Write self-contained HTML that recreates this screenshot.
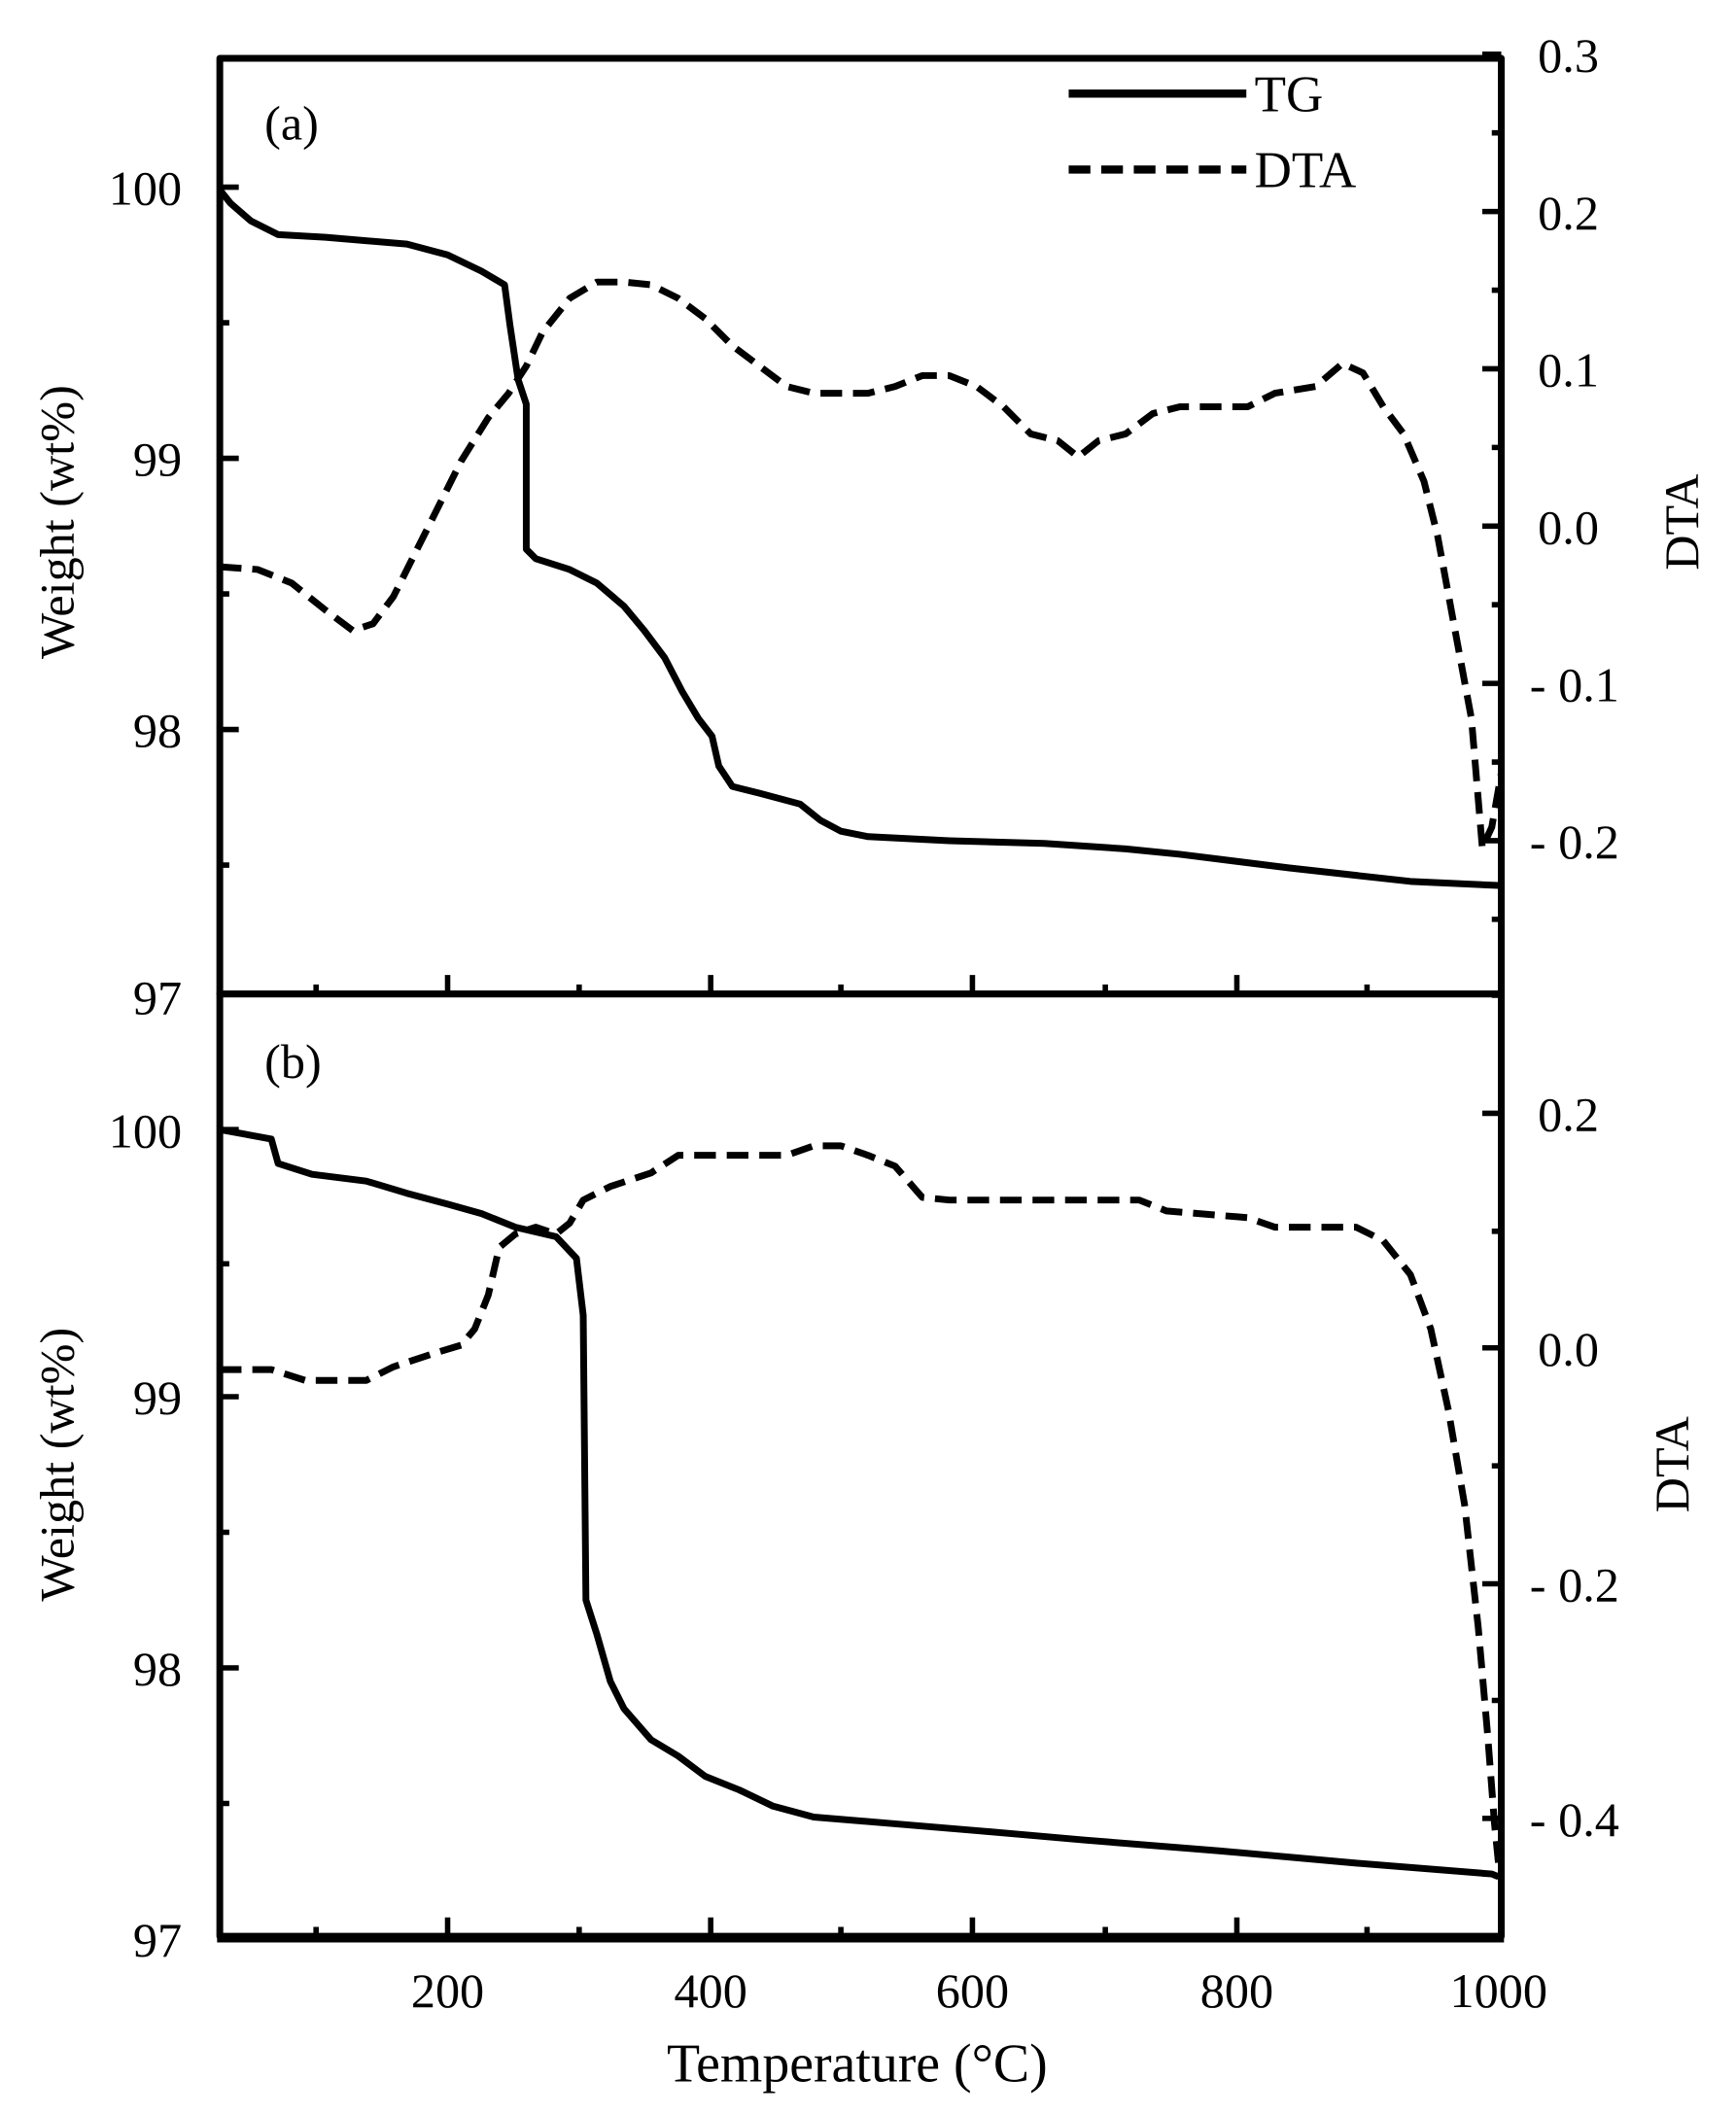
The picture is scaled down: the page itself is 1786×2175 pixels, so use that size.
<!DOCTYPE html>
<html><head><meta charset="utf-8"><style>
html,body{margin:0;padding:0;background:#fff}
svg{display:block}
text{font-family:"Liberation Serif",serif;fill:#000}
</style></head><body>
<svg width="1786" height="2175" viewBox="0 0 1280 1559" xmlns="http://www.w3.org/2000/svg">
<g fill="none" stroke="#000" stroke-linejoin="round">
<rect x="162" y="43" width="945" height="690" stroke-width="5"/>
<rect x="162" y="733" width="945" height="695" stroke-width="5"/>
<line x1="160" y1="1429" x2="1109" y2="1429" stroke-width="7"/>
<path stroke-width="4" d="M162 138h14M162 338h14M162 538h14M162 238h7M162 438h7M162 638h7"/>
<path stroke-width="4" d="M162 833h14M162 1030h14M162 1230h14M162 932h7M162 1130h7M162 1330h7"/>
<path stroke-width="4" d="M1107 40h-14M1107 156h-14M1107 272h-14M1107 388h-14M1107 504h-14M1107 620h-14M1107 98h-7M1107 214h-7M1107 330h-7M1107 446h-7M1107 562h-7M1107 678h-7"/>
<path stroke-width="4" d="M1107 821h-14M1107 994h-14M1107 1168h-14M1107 1341h-14M1107 734h-7M1107 908h-7M1107 1081h-7M1107 1254h-7"/>
<path stroke-width="4" d="M330 1428v-14M524 1428v-14M717 1428v-14M912 1428v-14M233 1428v-7M427 1428v-7M620 1428v-7M815 1428v-7M1008 1428v-7"/>
<path stroke-width="4" d="M330 733v-14M524 733v-14M717 733v-14M912 733v-14M233 733v-7M427 733v-7M620 733v-7M815 733v-7M1008 733v-7"/>
<polyline stroke-width="5" points="162,140 170,150 185,163 205,173 240,175 300,180 330,188 355,200 372,210 376,240 382,280 388,298 388,405 395,412 420,420 440,430 460,447 475,465 490,485 503,510 515,530 525,543 530,565 540,580 560,585 590,593 605,605 620,613 640,617 700,620 770,622 830,626 870,630 950,640 1040,650 1105,653"/>
<polyline stroke-width="5" stroke-dasharray="16,8" points="162,418 190,420 215,430 240,450 260,465 275,460 290,440 305,410 320,380 340,340 360,308 375,290 388,270 400,245 420,220 440,208 460,208 480,210 500,220 520,235 540,255 560,270 580,285 600,290 640,290 660,285 680,277 700,277 720,285 740,300 760,320 780,325 795,337 810,325 830,320 850,305 870,300 920,300 940,290 970,285 990,268 1005,275 1020,300 1035,320 1050,355 1060,395 1072,460 1085,530 1093,625 1100,610 1107,570"/>
<polyline stroke-width="5" points="162,833 200,840 205,858 230,866 270,871 300,880 330,888 355,895 380,905 410,912 425,928 430,970 432,1180 440,1205 450,1240 460,1260 480,1283 500,1295 520,1310 545,1320 570,1332 600,1340 660,1345 720,1350 800,1357 900,1365 1000,1374 1100,1382 1105,1384"/>
<polyline stroke-width="5" stroke-dasharray="16,8" points="162,1010 200,1010 225,1018 270,1018 290,1008 320,998 340,992 350,980 360,955 368,920 380,910 395,905 410,910 420,902 430,885 450,875 480,865 500,852 580,852 600,845 620,845 640,852 660,860 680,883 700,885 840,885 860,893 920,898 940,905 1000,905 1020,915 1040,940 1055,980 1068,1040 1080,1110 1090,1200 1097,1280 1102,1345 1105,1375"/>
<line x1="788" y1="69" x2="919" y2="69" stroke-width="6"/>
<line x1="788" y1="125" x2="919" y2="125" stroke-width="6" stroke-dasharray="16,8"/>
</g>
<g font-size="36">
<text x="925" y="82" font-size="38">TG</text>
<text x="925" y="138" font-size="38">DTA</text>
<text x="195" y="103">(a)</text>
<text x="195" y="795">(b)</text>
<g text-anchor="end">
<text x="134" y="151">100</text><text x="134" y="351">99</text><text x="134" y="551">98</text><text x="134" y="748">97</text>
<text x="134" y="846">100</text><text x="134" y="1043">99</text><text x="134" y="1243">98</text><text x="134" y="1443">97</text>
</g>
<g text-anchor="start">
<text x="1134" y="53">0.3</text><text x="1134" y="169">0.2</text><text x="1134" y="285">0.1</text><text x="1134" y="401">0.0</text>
<text x="1128" y="517">- 0.1</text><text x="1128" y="633">- 0.2</text>
<text x="1134" y="834">0.2</text><text x="1134" y="1007">0.0</text><text x="1128" y="1181">- 0.2</text><text x="1128" y="1354">- 0.4</text>
</g>
<g text-anchor="middle">
<text x="330" y="1480">200</text><text x="524" y="1480">400</text><text x="717" y="1480">600</text><text x="912" y="1480">800</text><text x="1105" y="1480">1000</text>
</g>
<text x="632" y="1535" font-size="40" text-anchor="middle">Temperature (°C)</text>
<text transform="translate(54,385) rotate(-90)" text-anchor="middle" font-size="36">Weight (wt%)</text>
<text transform="translate(54,1080) rotate(-90)" text-anchor="middle" font-size="36">Weight (wt%)</text>
<text transform="translate(1252,385) rotate(-90)" text-anchor="middle" font-size="36">DTA</text>
<text transform="translate(1245,1080) rotate(-90)" text-anchor="middle" font-size="36">DTA</text>
</g>
</svg>
</body></html>
